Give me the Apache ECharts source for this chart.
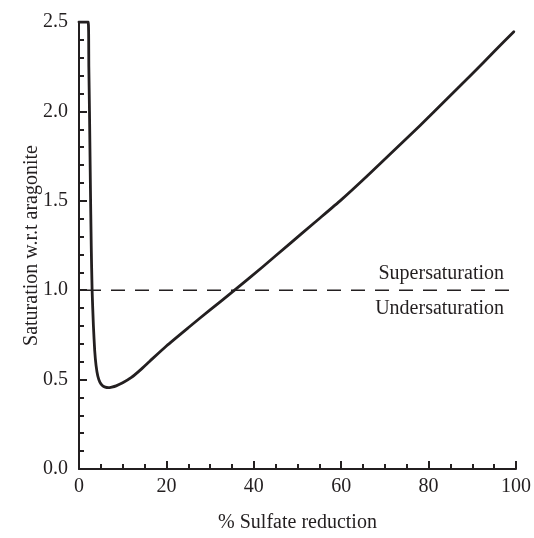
<!DOCTYPE html>
<html>
<head>
<meta charset="utf-8">
<script src="https://cdn.jsdelivr.net/npm/echarts@6/dist/echarts.min.js"></script>
<style>
  html, body { margin: 0; padding: 0; background: #fff; }
  #chart { width: 534px; height: 538px; }
</style>
</head>
<body>
<div id="chart"></div>
<script>
// % sulfate reduction vs saturation w.r.t. aragonite
const sulfateReduction = [0, 2.1, 2.25, 2.4, 2.6, 2.8, 3.0, 3.3, 3.6, 3.9, 4.3, 4.8, 5.4, 6.0, 6.7, 7.5, 8.5, 10, 12, 14, 16.2, 20, 25, 30, 35.6, 42, 48, 54, 60, 66, 72, 78, 84, 90, 95, 99.5]
const saturation       = [2.5, 2.5, 2.25, 2.0, 1.6, 1.25, 1.0, 0.8, 0.66, 0.58, 0.52, 0.485, 0.466, 0.458, 0.455, 0.458, 0.465, 0.482, 0.512, 0.553, 0.603, 0.688, 0.79, 0.89, 1.0, 1.13, 1.255, 1.38, 1.505, 1.64, 1.78, 1.92, 2.065, 2.21, 2.335, 2.445]
const thresholdX = [0, 100]
const thresholdY = 1.0
const thresholdLabels = ['Supersaturation', 'Undersaturation']

const C = { ink: '#231f20', font: 'Liberation Serif' }

const chart = echarts.init(document.getElementById('chart'), null, { renderer: 'canvas' })

const curve = sulfateReduction.map((x, i) => [x, saturation[i]])

chart.setOption({
  animation: false,
  grid: { left: 79, right: 17, top: 22, bottom: 69, containLabel: false },
  xAxis: {
    type: 'value',
    min: 0, max: 100, interval: 20,
    name: '% Sulfate reduction',
    nameLocation: 'middle',
    nameGap: 44,
    nameMoveOverlap: false,
    nameTextStyle: { color: C.ink, fontFamily: C.font, fontSize: 20 },
    axisLine: { show: true, onZero: false, lineStyle: { color: C.ink, width: 2 } },
    axisTick: { show: true, inside: true, length: 8, lineStyle: { color: C.ink, width: 2 } },
    minorTick: { show: true, splitNumber: 4, length: 5, lineStyle: { color: C.ink, width: 2 } },
    axisLabel: { color: C.ink, fontFamily: C.font, fontSize: 20, margin: 8 },
    splitLine: { show: false },
  },
  yAxis: {
    type: 'value',
    min: 0, max: 2.5, interval: 0.5,
    name: 'Saturation w.r.t aragonite',
    nameLocation: 'middle',
    nameGap: 37,
    nameMoveOverlap: false,
    nameTextStyle: { color: C.ink, fontFamily: C.font, fontSize: 20 },
    axisLine: { show: true, lineStyle: { color: C.ink, width: 2 } },
    axisTick: { show: true, inside: true, length: 8, lineStyle: { color: C.ink, width: 2 } },
    minorTick: { show: true, splitNumber: 5, length: 5, lineStyle: { color: C.ink, width: 2 } },
    axisLabel: { color: C.ink, fontFamily: C.font, fontSize: 20, margin: 11, formatter: v => v.toFixed(1) },
    splitLine: { show: false },
  },
  series: [
    {
      type: 'line',
      data: curve,
      showSymbol: false,
      smooth: 0.2,
      lineStyle: { color: C.ink, width: 2.8, join: 'round', cap: 'round' },
      z: 3,
    },
    {
      type: 'line',
      data: thresholdX.map(x => [x, thresholdY]),
      showSymbol: false,
      lineStyle: { color: C.ink, width: 1.5, type: [14, 10], dashOffset: -8 },
      markLine: {
        silent: true,
        symbol: 'none',
        lineStyle: { color: 'rgba(0,0,0,0)', width: 0 },
        data: [
          { yAxis: thresholdY, label: { formatter: thresholdLabels[0], position: 'insideEndTop', distance: [12, 6] } },
          { yAxis: thresholdY, label: { formatter: thresholdLabels[1], position: 'insideEndBottom', distance: [12, 9] } },
        ],
        label: { show: true, color: C.ink, fontFamily: C.font, fontSize: 20 },
      },
    },
  ],
})
</script>
</body>
</html>
